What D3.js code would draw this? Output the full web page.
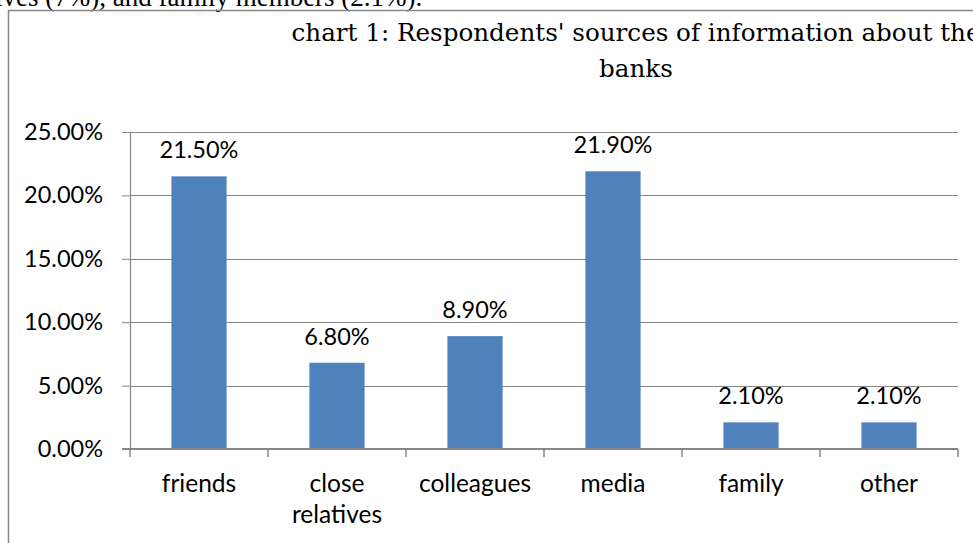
<!DOCTYPE html>
<html>
<head>
<meta charset="utf-8">
<script src="https://cdn.jsdelivr.net/npm/d3@7"></script>
<style>
  html, body { margin: 0; padding: 0; background: #fff; overflow: hidden; }
  svg { display: block; }
</style>
</head>
<body>
<svg id="chart" width="973" height="543"></svg>
<script>
const categories = ["friends", "close relatives", "colleagues", "media", "family", "other"];
const values = [0.215, 0.068, 0.089, 0.219, 0.021, 0.021];
const yTicks = [0, 0.05, 0.10, 0.15, 0.20, 0.25];
const titleLines = ["chart 1: Respondents' sources of information about the", "banks"];
const bodyText = "relatives (7%), and family members (2.1%).";

const svg = d3.select("#chart");
const W = 973, H = 543;
const plot = { left: 130, right: 958, top: 132, bottom: 449 };
const sans = "Lato, 'Open Sans', sans-serif";
const serif = "'DejaVu Serif', serif";

// cut-off body text above the chart
svg.append("text")
  .attr("x", -53).attr("y", 6)
  .attr("font-family", "'Liberation Serif', serif")
  .attr("font-size", 27)
  .attr("fill", "#000")
  .text(bodyText);

// chart frame (left and top edges visible)
svg.append("path")
  .attr("d", `M8.5,${H} L8.5,10.5 L${W},10.5`)
  .attr("fill", "none")
  .attr("stroke", "#898989")
  .attr("stroke-width", 1.5);

// title
const title = svg.append("text")
  .attr("text-anchor", "middle")
  .attr("font-family", serif)
  .attr("font-size", 24.6)
  .attr("fill", "#000");
title.selectAll("tspan").data(titleLines).join("tspan")
  .attr("x", 636)
  .attr("y", (d, i) => 41 + i * 36)
  .text(d => d);

const x = d3.scaleBand().domain(categories).range([plot.left, plot.right]).padding(0);
const y = d3.scaleLinear().domain([0, 0.25]).range([plot.bottom, plot.top]);
const barW = x.bandwidth() * 0.4;

// gridlines
svg.append("g").selectAll("line").data(yTicks.filter(t => t > 0)).join("line")
  .attr("x1", plot.left).attr("x2", plot.right)
  .attr("y1", d => Math.round(y(d)) + 0.5).attr("y2", d => Math.round(y(d)) + 0.5)
  .attr("stroke", "#868686").attr("stroke-width", 1);

// y axis
const yAxis = svg.append("g")
  .attr("transform", `translate(${plot.left},0)`)
  .call(d3.axisLeft(y).tickValues(yTicks).tickFormat(d3.format(".2%")).tickSize(8).tickPadding(19));
yAxis.select(".domain").attr("stroke", "#868686").attr("stroke-width", 1.2);
yAxis.selectAll(".tick line").attr("stroke", "#868686");
yAxis.selectAll(".tick text")
  .attr("font-family", sans).attr("font-size", 23.5).attr("fill", "#000");

// bars
svg.append("g").selectAll("rect").data(values).join("rect")
  .attr("x", (d, i) => x(categories[i]) + (x.bandwidth() - barW) / 2)
  .attr("y", d => y(d))
  .attr("width", barW)
  .attr("height", d => y(0) - y(d))
  .attr("fill", "#4F81BD");

// x axis
const xAxisG = svg.append("g").attr("transform", `translate(0,${plot.bottom})`);
xAxisG.append("line")
  .attr("x1", plot.left - 8).attr("x2", plot.right)
  .attr("y1", 0).attr("y2", 0)
  .attr("stroke", "#868686").attr("stroke-width", 2);
const boundaries = categories.map(c => x(c)).concat([plot.right]);
xAxisG.selectAll("line.tk").data(boundaries).join("line")
  .attr("class", "tk")
  .attr("x1", d => d).attr("x2", d => d)
  .attr("y1", 0).attr("y2", 8)
  .attr("stroke", "#868686").attr("stroke-width", 1.5);

const catText = xAxisG.selectAll("text.cat").data(categories).join("text")
  .attr("class", "cat")
  .attr("text-anchor", "middle")
  .attr("font-family", sans).attr("font-size", 24.5).attr("fill", "#000");
catText.each(function(d) {
  const words = d.split(" ");
  const t = d3.select(this);
  words.forEach((w, i) => {
    t.append("tspan").attr("x", x(d) + x.bandwidth() / 2).attr("y", 43 + i * 31).text(w);
  });
});

// data labels
svg.append("g").selectAll("text").data(values).join("text")
  .attr("x", (d, i) => x(categories[i]) + x.bandwidth() / 2)
  .attr("y", d => y(d) - 18)
  .attr("text-anchor", "middle")
  .attr("font-family", sans).attr("font-size", 23.5).attr("fill", "#000")
  .text(d => d3.format(".2%")(d));
</script>
</body>
</html>
